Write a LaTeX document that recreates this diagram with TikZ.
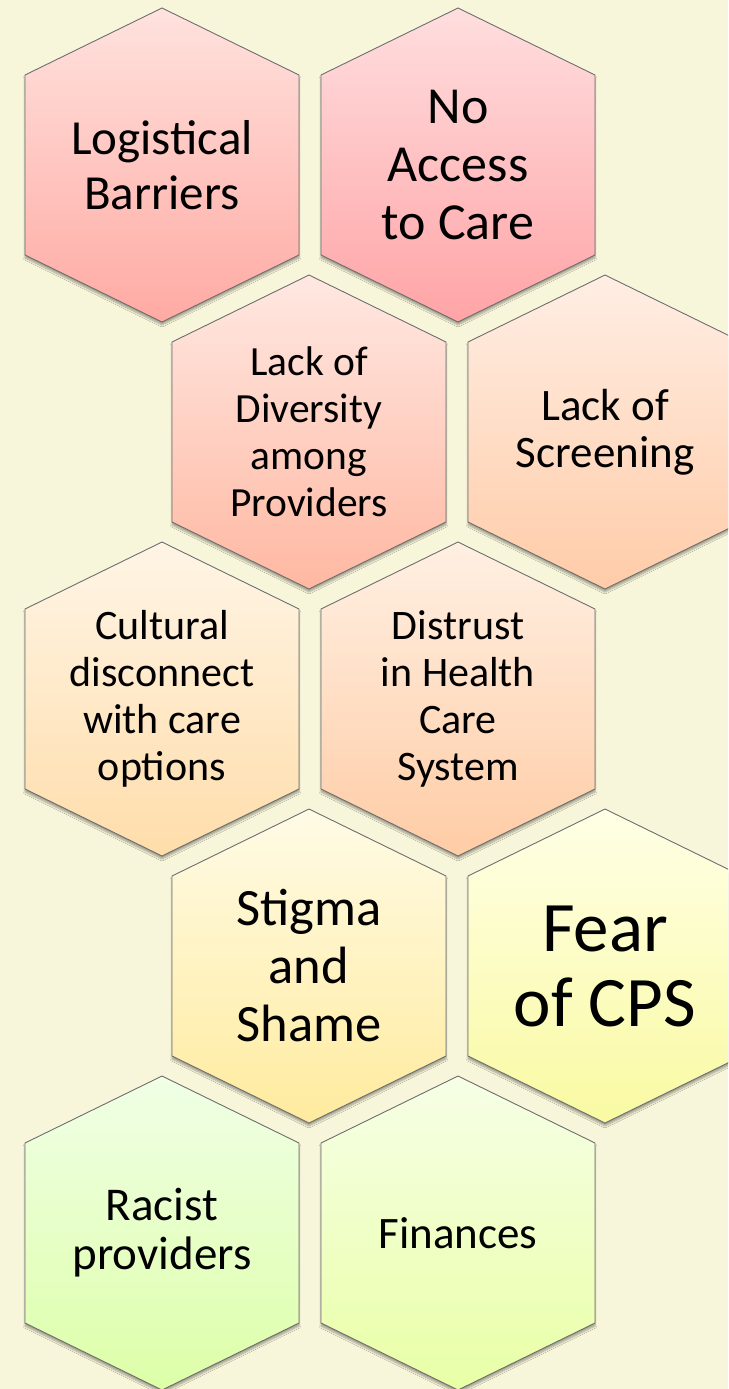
\documentclass[tikz,border=0pt]{standalone}
\usepackage{fontspec}
\setmainfont{Carlito}
\usetikzlibrary{shadows.blur}
\definecolor{bgcream}{HTML}{F8F6DA}
\definecolor{hexline}{HTML}{6E6E6E}
\definecolor{logtop}{HTML}{FFE2DE}\definecolor{logbot}{HTML}{FFAAA3}
\definecolor{acctop}{HTML}{FFDEDF}\definecolor{accbot}{HTML}{FFA4A6}
\definecolor{divtop}{HTML}{FFE8E2}\definecolor{divbot}{HTML}{FFB8A2}
\definecolor{scrtop}{HTML}{FFEEE4}\definecolor{scrbot}{HTML}{FFCCA8}
\definecolor{cultop}{HTML}{FFF5E6}\definecolor{culbot}{HTML}{FFDDAA}
\definecolor{distop}{HTML}{FFF0E3}\definecolor{disbot}{HTML}{FFCCA5}
\definecolor{stitop}{HTML}{FFFBE6}\definecolor{stibot}{HTML}{FFEB9E}
\definecolor{feartop}{HTML}{FFFFE6}\definecolor{fearbot}{HTML}{F9FAA2}
\definecolor{ractop}{HTML}{F0FFE6}\definecolor{racbot}{HTML}{DDFFA8}
\definecolor{fintop}{HTML}{F6FFE6}\definecolor{finbot}{HTML}{E9FFA6}
\tikzset{hexcell/.style={draw=hexline,line width=0.9pt,blur shadow={shadow xshift=0pt,shadow yshift=-3pt,shadow blur steps=6,shadow opacity=35}},
hextext/.style={align=center,text=black,inner sep=0pt}}
\begin{document}
\begin{tikzpicture}[x=1pt,y=-1pt]
\pgfmathsetmacro{\hxw}{137}
\pgfmathsetmacro{\hxs}{90}
\pgfmathsetmacro{\hxt}{157}
\useasboundingbox(0,0) rectangle (728,1389);
\clip(0,0) rectangle (728,1389);
\fill[bgcream](0,0) rectangle (728,1389);
\foreach \cx/\cy/\nm/\sz/\sk/\lbl in {162/165/log/49/55/{Logistical\\Barriers},458/165/acc/52/58/{No\\Access\\to Care},309/432/div/41.5/47/{Lack of\\Diversity\\among\\Providers},605/432/scr/45/47/{Lack of\\Screening},162/699/cul/42/47/{Cultural\\disconnect\\with care\\options},458/699/dis/42/47/{Distrust\\in Health\\Care\\System},309/966/sti/52.5/58/{Stigma\\and\\Shame},605/966/fear/71/75/{Fear\\of CPS},162/1233/rac/47/49/{Racist\\providers},458/1233/fin/45/50/{Finances}}{
\path[hexcell,top color=\nm top,bottom color=\nm bot](\cx,\cy-\hxt)--(\cx+\hxw,\cy-\hxs)--(\cx+\hxw,\cy+\hxs)--(\cx,\cy+\hxt)--(\cx-\hxw,\cy+\hxs)--(\cx-\hxw,\cy-\hxs)--cycle;
\node[hextext,font=\fontsize{\sz}{\sk}\selectfont](\nm) at (\cx,\cy){\lbl};
}
\end{tikzpicture}
\end{document}
